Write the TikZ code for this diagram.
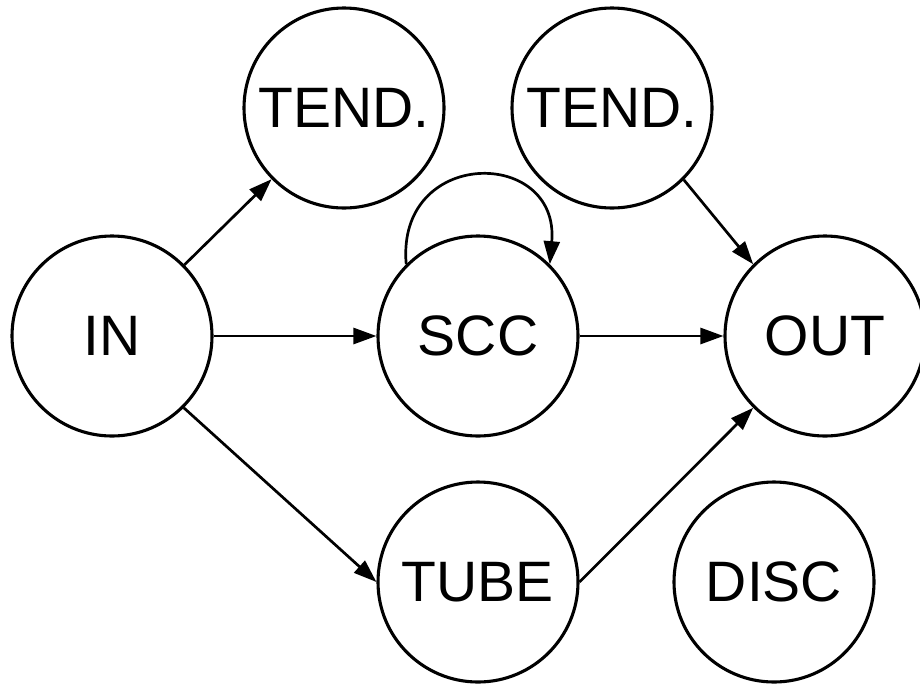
\documentclass[tikz,border=0pt]{standalone}
\usepackage{fontspec}
\setmainfont{Liberation Sans}
\usetikzlibrary{arrows.meta}
\begin{document}
\begin{tikzpicture}[x=1pt,y=-1pt,
  state/.style={circle, draw, line width=3.1pt, minimum size=200pt, inner sep=0pt,
    font=\fontsize{57}{60}\selectfont},
  arr/.style={line width=2.7pt, -{Triangle[length=23pt,width=16pt]}}]
\useasboundingbox (0,0) rectangle (920,683);
\node[state] (IN) at (112,336) {IN};
\node[state] (TL) at (344,108) {TEND.};
\node[state] (TR) at (612,108) {TEND.};
\node[state] (SCC) at (478,336) {SCC};
\node[state] (OUT) at (825,336) {OUT};
\node[state] (TUBE) at (478,582) {TUBE};
\node[state] (DISC) at (774,582) {DISC};
\draw[arr] (IN) -- (TL);
\draw[arr] (IN) -- (SCC);
\draw[arr] (IN.-45) -- (TUBE.180);
\draw[arr] (SCC) -- (OUT);
\draw[arr] (TR.-45) -- (OUT.135);
\draw[arr] (TUBE.0) -- (OUT.-135);
\draw[arr] (SCC.135) to[out=95,in=85,looseness=2.1] (SCC.45);
\end{tikzpicture}
\end{document}
